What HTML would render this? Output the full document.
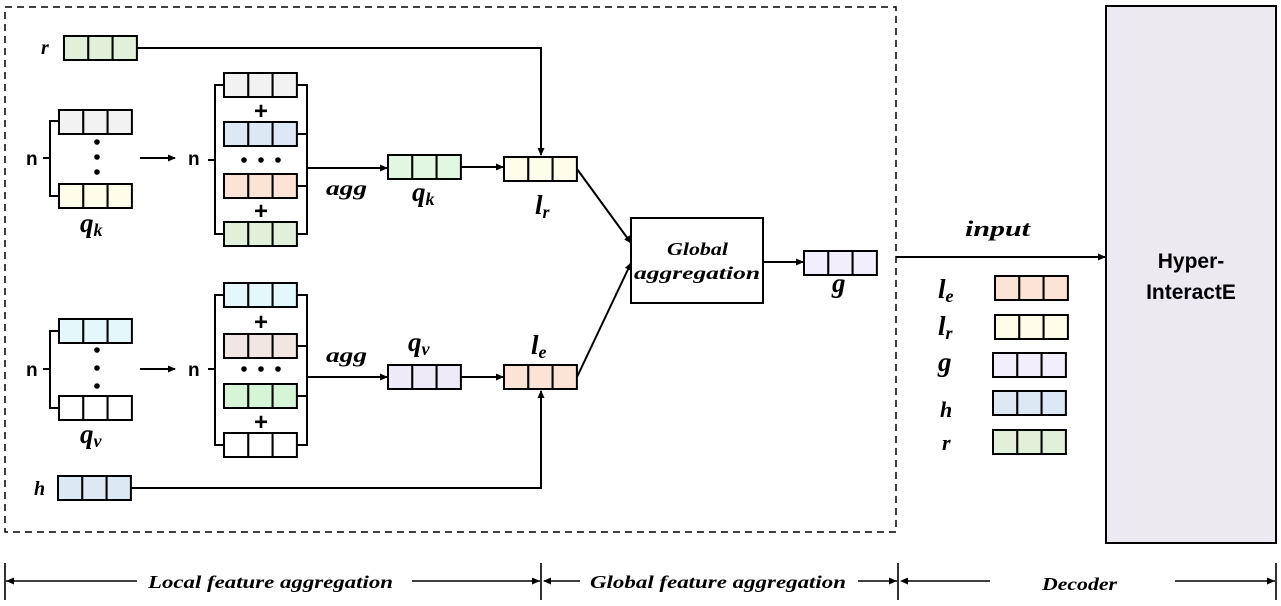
<!DOCTYPE html>
<html><head><meta charset="utf-8"><style>
html,body{margin:0;padding:0;background:#fff;}
svg{display:block;}
.lab{font-family:"Liberation Serif",serif;font-style:italic;font-weight:bold;fill:#000;}
.sans{font-family:"Liberation Sans",sans-serif;font-weight:bold;fill:#000;}
</style></head><body>
<svg id="s" width="1281" height="606" viewBox="0 0 1281 606" xmlns="http://www.w3.org/2000/svg">
<defs><marker id="ar" markerWidth="8" markerHeight="8" refX="7" refY="4" orient="auto" markerUnits="userSpaceOnUse"><path d="M0,0.5 L8,4 L0,7.5 Z" fill="#000"/></marker></defs>
<rect x="5" y="7" width="891" height="525" fill="none" stroke="#000" stroke-width="1.5" stroke-dasharray="7,5"/>
<rect x="1106" y="6" width="170" height="537" fill="#ece9f1" stroke="#000" stroke-width="2"/>
<text class="sans" x="1191" y="268" font-size="21" text-anchor="middle">Hyper-</text>
<text class="sans" x="1191" y="299" font-size="21" text-anchor="middle">InteractE</text>
<rect x="631" y="218" width="132" height="85" fill="#fff" stroke="#000" stroke-width="2"/>
<text class="lab" x="667" y="255" font-size="18" textLength="61" lengthAdjust="spacingAndGlyphs">Global</text>
<text class="lab" x="634" y="279" font-size="18" textLength="126" lengthAdjust="spacingAndGlyphs">aggregation</text>
<g id="lines" fill="none" stroke="#000" stroke-width="2">
<path d="M136,48 H541 V155" marker-end="url(#ar)"/>
<path d="M131,488 H541 V391" marker-end="url(#ar)"/>
<path d="M140,158 H175" marker-end="url(#ar)"/>
<path d="M140,369 H175" marker-end="url(#ar)"/>
<path d="M307,168 H387" marker-end="url(#ar)"/>
<path d="M307,377 H387" marker-end="url(#ar)"/>
<path d="M461,167 H503" marker-end="url(#ar)"/>
<path d="M461,377 H503" marker-end="url(#ar)"/>
<path d="M577,169 L631,243" marker-end="url(#ar)"/>
<path d="M577,377 L631,263" marker-end="url(#ar)"/>
<path d="M763,262 H803" marker-end="url(#ar)"/>
<path d="M896,257 H1105" marker-end="url(#ar)"/>
<path d="M59,121 H50 V196 H59 M43,158 H50"/>
<path d="M59,331 H50 V408 H59 M43,369 H50"/>
<path d="M224,85 H215 V234 H224 M208,160 H215"/>
<path d="M297,85 H307 V234 H297 M297,134 H307 M297,186 H307"/>
<path d="M224,295 H215 V445 H224 M208,369 H215"/>
<path d="M297,295 H307 V445 H297 M297,346 H307 M297,396 H307"/>
</g>
<g id="boxes"></g>
<g id="dots" fill="#000">
<circle cx="97" cy="142" r="2.8"/><circle cx="97" cy="157" r="2.8"/><circle cx="97" cy="172" r="2.8"/>
<circle cx="97" cy="350" r="2.8"/><circle cx="97" cy="368" r="2.8"/><circle cx="97" cy="386" r="2.8"/>
<circle cx="244" cy="160" r="2.8"/><circle cx="261" cy="160" r="2.8"/><circle cx="278" cy="160" r="2.8"/>
<circle cx="244" cy="369" r="2.8"/><circle cx="261" cy="369" r="2.8"/><circle cx="278" cy="369" r="2.8"/>
</g>
<g class="sans" font-size="24" text-anchor="middle">
<text class="sans" x="261" y="119">+</text>
<text class="sans" x="261" y="219">+</text>
<text class="sans" x="261" y="330">+</text>
<text class="sans" x="261" y="430">+</text>
</g>
<g font-size="19">
<text class="sans" x="26" y="165">n</text>
<text class="sans" x="188" y="165">n</text>
<text class="sans" x="26" y="376">n</text>
<text class="sans" x="188" y="376">n</text>
</g>
<text class="lab" x="41" y="54" font-size="20">r</text>
<text class="lab" x="34" y="495" font-size="20">h</text>
<text class="lab" x="80" y="232" font-size="27">q<tspan font-size="18" dy="4">k</tspan></text>
<text class="lab" x="80" y="443" font-size="27">q<tspan font-size="18" dy="4">v</tspan></text>
<text class="lab" x="326" y="195" font-size="21" textLength="41" lengthAdjust="spacingAndGlyphs">agg</text>
<text class="lab" x="326" y="362" font-size="21" textLength="41" lengthAdjust="spacingAndGlyphs">agg</text>
<text class="lab" x="412" y="201" font-size="27">q<tspan font-size="18" dy="4">k</tspan></text>
<text class="lab" x="408" y="351" font-size="27">q<tspan font-size="18" dy="4">v</tspan></text>
<text class="lab" x="535" y="214" font-size="27">l<tspan font-size="18" dy="4">r</tspan></text>
<text class="lab" x="531" y="354" font-size="27">l<tspan font-size="18" dy="4">e</tspan></text>
<text class="lab" x="832" y="292" font-size="27">g</text>
<text class="lab" x="965" y="236" font-size="22" textLength="65" lengthAdjust="spacingAndGlyphs">input</text>
<text class="lab" x="938" y="298" font-size="27">l<tspan font-size="18" dy="4">e</tspan></text>
<text class="lab" x="938" y="335" font-size="27">l<tspan font-size="18" dy="4">r</tspan></text>
<text class="lab" x="938" y="371" font-size="27">g</text>
<text class="lab" x="940" y="417" font-size="22">h</text>
<text class="lab" x="942" y="450" font-size="22">r</text>
<g fill="none" stroke="#000" stroke-width="1.6">
<path d="M6,581 H137 M412,581 H540 M544,581 H580 M858,581 H897 M902,581 H990 M1175,581 H1275"/>
<path d="M5,563 V600 M541,563 V600 M898,563 V600 M1276,563 V600"/>
</g>
<g fill="#000">
<path d="M6,581 l8,-3.5 v7 z M540,581 l-8,-3.5 v7 z M543,581 l8,-3.5 v7 z M897,581 l-8,-3.5 v7 z M900,581 l8,-3.5 v7 z M1275,581 l-8,-3.5 v7 z"/>
</g>
<text class="lab" x="148" y="588" font-size="18" textLength="245" lengthAdjust="spacingAndGlyphs">Local feature aggregation</text>
<text class="lab" x="590" y="588" font-size="18" textLength="256" lengthAdjust="spacingAndGlyphs">Global feature aggregation</text>
<text class="lab" x="1042" y="590" font-size="18" textLength="75" lengthAdjust="spacingAndGlyphs">Decoder</text>
</svg>
<script>
const boxes=[
["r-vector",64,36,"#e2f0d9"],
["qk-first",59,110,"#f2f2f2"],["qk-last",59,184,"#fdfde9"],
["k-mid-1",224,73,"#f2f2f2"],["k-mid-2",224,122,"#dce8f4"],["k-mid-3",224,174,"#fbe3d6"],["k-mid-4",224,222,"#e2f0d9"],
["qk-vector",388,155,"#e2f7e2"],["lr-vector",504,157,"#fdfde9"],
["qv-first",59,319,"#e4f7fb"],["qv-last",59,396,"#ffffff"],
["v-mid-1",224,283,"#e4f7fb"],["v-mid-2",224,334,"#f2e6e3"],["v-mid-3",224,384,"#d6f5d6"],["v-mid-4",224,433,"#ffffff"],
["qv-vector",388,365,"#efeaf8"],["le-vector",504,365,"#fbe3d6"],
["h-vector",58,476,"#dce8f4"],["g-vector",804,251,"#f3eefc"],
["legend-le",995,276,"#fbe3d6"],["legend-lr",995,315,"#fdfde9"],["legend-g",993,353,"#f3eefc"],["legend-h",993,391,"#dce8f4"],["legend-r",993,430,"#e2f0d9"]
];
const NS="http://www.w3.org/2000/svg",g=document.getElementById('boxes');
for(const [n,x,y,c] of boxes){
 const grp=document.createElementNS(NS,'g');
 
 
 for(let i=0;i<3;i++){
  const r=document.createElementNS(NS,'rect');
  r.setAttribute('x',x+i*24.3);r.setAttribute('y',y);r.setAttribute('width',24.3);r.setAttribute('height',24);
  r.setAttribute('fill',c);r.setAttribute('stroke','#000');r.setAttribute('stroke-width','2');
  grp.appendChild(r);
 }
 g.appendChild(grp);
}
</script>
</body></html>
